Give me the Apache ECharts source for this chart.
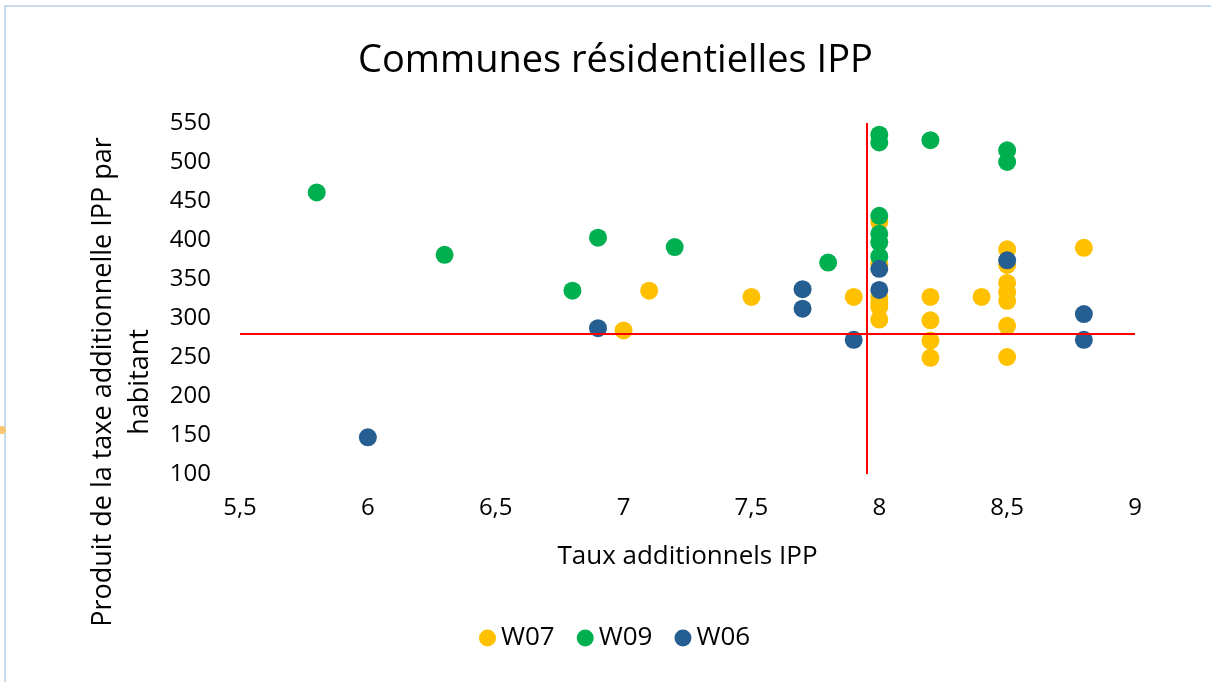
<!DOCTYPE html>
<html>
<head>
<meta charset="utf-8">
<title>Communes résidentielles IPP</title>
<script src="https://cdn.jsdelivr.net/npm/echarts@6/dist/echarts.min.js"></script>
<style>
  html, body { margin: 0; padding: 0; background: #fff; }
  #chart { width: 1211px; height: 682px; }
</style>
</head>
<body>
<div id="chart"></div>
<script>
// séries [taux additionnel IPP, produit par habitant]
const w07 = [
  [7.0, 284], [7.1, 335], [7.5, 327], [7.9, 327],
  [8.0, 423], [8.0, 369], [8.0, 327], [8.0, 320], [8.0, 314], [8.0, 298],
  [8.2, 327], [8.2, 297], [8.2, 271], [8.2, 249], [8.4, 327],
  [8.5, 388], [8.5, 368], [8.5, 345], [8.5, 333], [8.5, 322], [8.5, 290], [8.5, 250],
  [8.8, 390]
];
const w09 = [
  [5.8, 461], [6.3, 381], [6.8, 335], [6.9, 403], [7.2, 391], [7.8, 371],
  [8.0, 535], [8.0, 525], [8.0, 431], [8.0, 408], [8.0, 397], [8.0, 379],
  [8.2, 528], [8.5, 515], [8.5, 500]
];
const w06 = [
  [6.0, 147], [6.9, 287], [7.7, 337], [7.7, 312], [7.9, 272],
  [8.0, 363], [8.0, 336], [8.5, 374], [8.8, 305], [8.8, 272]
];
const seriesNames = ["W07", "W09", "W06"];
const colors = ["#FFC000", "#00B050", "#255E91"];
// lignes de référence (moyennes)
const refX = 7.95;
const refY = 280;

const font = "'Open Sans', sans-serif";
const chart = echarts.init(document.getElementById("chart"));

const option = {
  animation: false,
  backgroundColor: "#fff",
  title: {
    text: "Communes résidentielles IPP",
    left: 353,
    top: 37,
    textStyle: { fontFamily: font, fontSize: 38, fontWeight: "normal", color: "#000" },
  },
  grid: { left: 240, right: 76, top: 123, bottom: 208 },
  legend: {
    data: seriesNames,
    bottom: 26,
    left: 474,
    icon: "circle",
    itemWidth: 17,
    itemHeight: 17,
    itemGap: 22,
    textStyle: { fontFamily: font, fontSize: 26, color: "#000" },
  },
  xAxis: {
    type: "value",
    min: 5.5,
    max: 9,
    interval: 0.5,
    name: "Taux additionnels IPP",
    nameLocation: "middle",
    nameGap: 70,
    nameTextStyle: { fontFamily: font, fontSize: 26, color: "#000" },
    axisLine: { show: false },
    axisTick: { show: false },
    splitLine: { show: false },
    axisLabel: {
      margin: 22,
      fontFamily: font,
      fontSize: 24,
      color: "#000",
      formatter: (v) => String(v).replace(".", ","),
    },
  },
  yAxis: {
    type: "value",
    min: 100,
    max: 550,
    interval: 50,
    axisLine: { show: false },
    axisTick: { show: false },
    splitLine: { show: false },
    axisLabel: { margin: 29, fontFamily: font, fontSize: 24, color: "#000" },
  },
  graphic: [
    {
      type: "rect",
      shape: { x: 5, y: 6, width: 1300, height: 700 },
      style: { fill: "none", stroke: "#c9dcee", lineWidth: 2 },
      silent: true,
    },
    {
      type: "circle",
      shape: { cx: 2, cy: 430, r: 4 },
      style: { fill: "#f9c46e" },
      silent: true,
    },
    {
      type: "text",
      x: 122,
      y: 382,
      rotation: Math.PI / 2,
      style: {
        text: "Produit de la taxe additionnelle IPP par\nhabitant",
        font: "27px " + font,
        fill: "#000",
        align: "center",
        verticalAlign: "middle",
        lineHeight: 37,
      },
    },
  ],
  series: [
    {
      name: "ref",
      type: "scatter",
      data: [],
      z: 1,
      markLine: {
        silent: true,
        symbol: "none",
        label: { show: false },
        lineStyle: { color: "#FF0000", width: 2, type: "solid" },
        data: [{ xAxis: refX }, { yAxis: refY }],
      },
    },
  ].concat(
    [w07, w09, w06].map((d, i) => ({
      name: seriesNames[i],
      type: "scatter",
      data: d,
      symbolSize: 18,
      z: 3,
      itemStyle: { color: colors[i], opacity: 1 },
    }))
  ),
};

chart.setOption(option);
</script>
</body>
</html>
